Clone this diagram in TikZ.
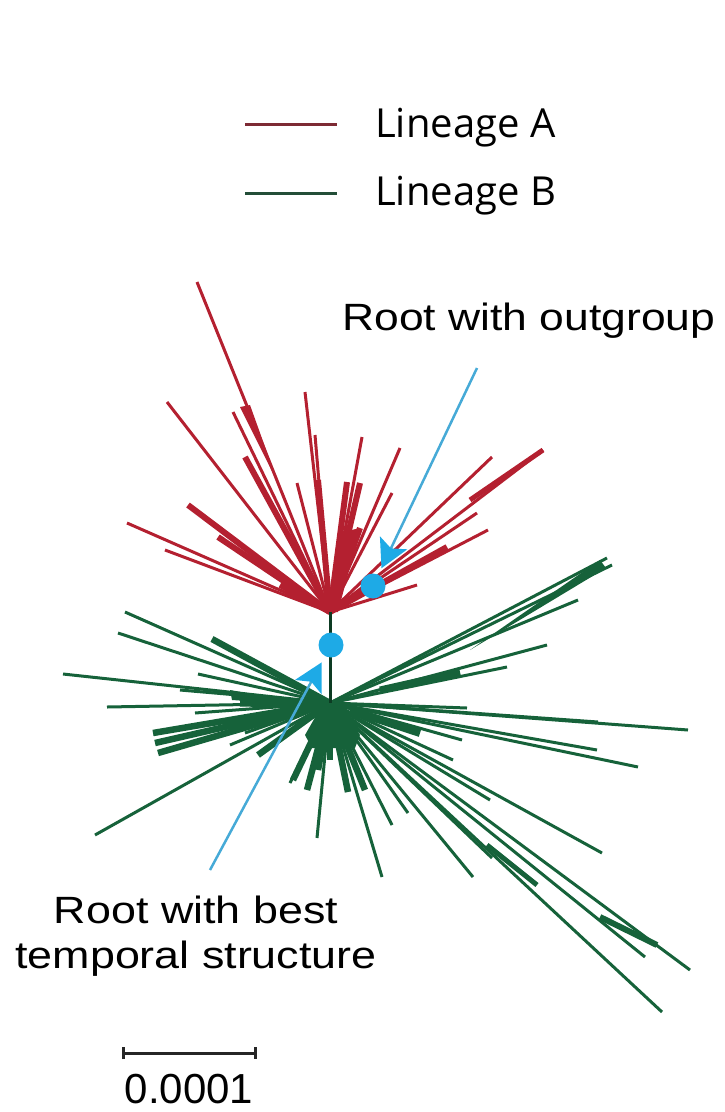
\documentclass[tikz,border=0pt]{standalone}
\usepackage{fontspec}
\usepackage{graphicx}
\setmainfont{Liberation Sans}
\newfontfamily\legendfont{Open Sans}
\usetikzlibrary{arrows.meta}

\definecolor{linA}{RGB}{180,32,48}
\definecolor{linB}{RGB}{22,98,58}
\definecolor{legA}{RGB}{125,42,52}
\definecolor{legB}{RGB}{35,78,56}
\definecolor{rootdot}{RGB}{30,170,230}
\definecolor{pointer}{RGB}{70,170,215}

\begin{document}
\begin{tikzpicture}[x=1pt,y=-1pt,
  brA/.style={draw=linA,line width=3pt},
  brAthick/.style={draw=linA,line width=6pt},
  brB/.style={draw=linB,line width=3pt},
  brBthick/.style={draw=linB,line width=6.5pt},
  rootmark/.style={circle,fill=rootdot,minimum size=25pt,inner sep=0pt},
  pointerarrow/.style={draw=pointer,line width=2.5pt,
    -{Stealth[length=28pt,width=30pt,inset=6pt,color=rootdot]},shorten >=7pt},
  bigtext/.style={font=\fontsize{38}{44}\selectfont},
  legendtext/.style={font=\legendfont\fontsize{40}{46}\selectfont},
  scaletext/.style={font=\fontsize{42}{50}\selectfont}
]
\useasboundingbox (0,0) rectangle (725,1112);

% roots of the two lineages
\coordinate (rA) at (330,612);
\coordinate (rB) at (330,703);

% ---------- legend ----------
\coordinate (legA1) at (245,124);
\coordinate (legA2) at (337,124);
\coordinate (legB1) at (245,193);
\coordinate (legB2) at (337,193);
\draw[legA,line width=3pt] (legA1) -- (legA2);
\draw[legB,line width=3pt] (legB1) -- (legB2);
\node[legendtext,anchor=base west,inner sep=0pt] (txtA) at (375,137) {Lineage A};
\node[legendtext,anchor=base west,inner sep=0pt] (txtB) at (375,205) {Lineage B};

% ---------- lineage B (green) ----------
\foreach \x/\y in {125/612,118/633,63/674,198/674,107/707,195/713,95/835,
  290/783,317/838,607/558,612/565,578/600,547/645,507/667,467/708,688/730,
  598/722,597/750,638/767,462/740,453/760,490/800,382/877,392/825,408/813,
  473/877,492/858,602/853,690/970,645/957,662/1012,245/733,180/690,230/745}
  \draw[brB] (rB) -- (\x,\y);
\foreach \x/\y in {212/639,153/733,155/743,158/753,258/755,307/790,348/792,
  365/790,293/780,330/760,318/770}
  \draw[brBthick] (rB) -- (\x,\y);
% collapsed clades
\draw[linB,line width=7pt] (330,705) -- (240,703);
\draw[linB,line width=7pt] (380,690) -- (460,672);
\draw[linB,line width=8pt] (350,710) -- (420,733);
\draw[linB,line width=6pt] (600,917) -- (657,945);
\draw[linB,line width=5pt] (487,845) -- (537,885);
\fill[linB] (470,650) -- (600,560) -- (606,568) -- cycle;
\fill[linB] (230,690) -- (320,706) -- (232,700) -- cycle;
\fill[linB] (325,700) -- (340,700) -- (360,735) -- (355,748) -- (312,748) -- (305,735) -- cycle;

% ---------- lineage A (red) ----------
\foreach \x/\y in {197/282,233/412,167/402,305/392,315/435,297/483,127/523,
  165/550,362/437,400/448,392/493,492/457,543/450,477/513,488/530,417/585}
  \draw[brA] (rA) -- (\x,\y);
\foreach \x/\y in {188/505,218/537,280/585,318/480,347/482,360/483,360/528,
  447/547,245/457}
  \draw[brAthick] (rA) -- (\x,\y);
% collapsed clades
\fill[linA] (278,483) -- (240,407) -- (250,405) -- cycle;
\fill[linA] (330,612) -- (343,532) -- (360,528) -- (338,612) -- cycle;
\draw[linA,line width=5pt] (470,500) -- (543,450);

% stem joining the two lineages
\draw[linB!60!black,line width=3pt] (rA) -- (rB);

% ---------- candidate roots ----------
\node[rootmark] (dotOut) at (373,586) {};
\node[rootmark] (dotTemp) at (331,645) {};

\coordinate (srcOut) at (477,368);
\coordinate (srcTemp) at (210,870);
\draw[pointerarrow] (srcOut) -- (dotOut);
\draw[pointerarrow] (srcTemp) -- (dotTemp);

\node[bigtext,anchor=base west,inner sep=0pt] (lblOut) at (342,330)
  {\scalebox{1.17}[1]{Root with outgroup}};
\node[bigtext,anchor=base,inner sep=0pt] (lblTemp1) at (196,923)
  {\scalebox{1.18}[1]{Root with best}};
\node[bigtext,anchor=base,inner sep=0pt] (lblTemp2) at (196,968)
  {\scalebox{1.18}[1]{temporal structure}};

% ---------- scale bar ----------
\coordinate (sb1) at (122,1053);
\coordinate (sb2) at (257,1053);
\draw[black!85,line width=3pt,{Bar[width=12pt]}-{Bar[width=12pt]}] (sb1) -- (sb2);
\node[scaletext,anchor=base,inner sep=0pt] (sbl) at (189,1103) {0.0001};
\end{tikzpicture}
\end{document}
